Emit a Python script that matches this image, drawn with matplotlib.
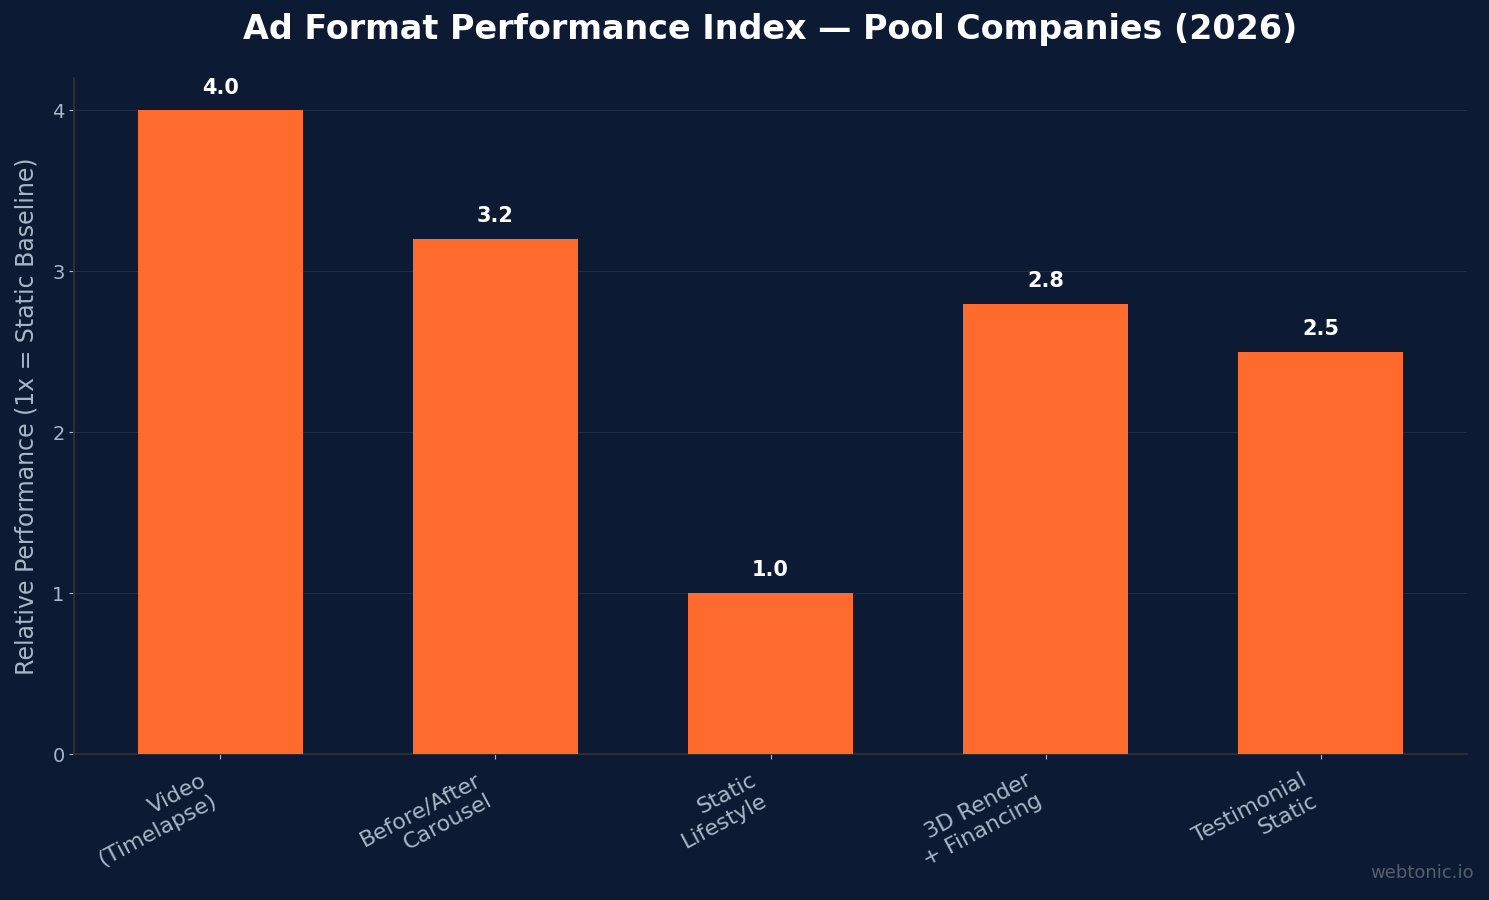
import matplotlib
matplotlib.use("Agg")
import matplotlib.pyplot as plt
import numpy as np

# chart data
formats = ["Video\n(Timelapse)", "Before/After\nCarousel", "Static\nLifestyle",
           "3D Render\n+ Financing", "Testimonial\nStatic"]
performance = [4.0, 3.2, 1.0, 2.8, 2.5]

bg = "#0c1b33"
bar_color = "#ff6b2c"
text_light = "#aab6c8"

fig, ax = plt.subplots(figsize=(14.89, 9), dpi=100)
fig.patch.set_facecolor(bg)
ax.set_facecolor(bg)
fig.subplots_adjust(left=0.05, right=0.985, top=0.913, bottom=0.162)

x = np.arange(len(formats))
bars = ax.bar(x, performance, width=0.6, color=bar_color, zorder=3)

for xi, v in zip(x, performance):
    ax.text(xi, v + 0.08, f"{v:.1f}", ha="center", va="bottom",
            color="white", fontsize=15, fontweight="bold")

ax.set_ylim(0, 4.2)
ax.set_yticks([0, 1, 2, 3, 4])
ax.set_xticks(x)
ax.set_xticklabels(formats, rotation=28, ha="right",
                   fontsize=16, color=text_light)
ax.tick_params(axis="y", colors=text_light, labelsize=14)
ax.tick_params(axis="x", colors=text_light, pad=8)

ax.set_ylabel("Relative Performance (1x = Static Baseline)", fontsize=17,
              color=text_light, labelpad=10)
ax.set_title("Ad Format Performance Index — Pool Companies (2026)",
             fontsize=24, fontweight="bold", color="white", pad=28)

ax.grid(axis="y", color="#1e2c45", linewidth=0.8, zorder=0)
for side in ["top", "right"]:
    ax.spines[side].set_visible(False)
for side in ["left", "bottom"]:
    ax.spines[side].set_color("#333333")
    ax.spines[side].set_linewidth(1.2)

fig.text(0.99, 0.02, "webtonic.io", ha="right", va="bottom",
         fontsize=13, color="#555f6e")

fig.savefig("out.png", dpi=100, facecolor=bg)
